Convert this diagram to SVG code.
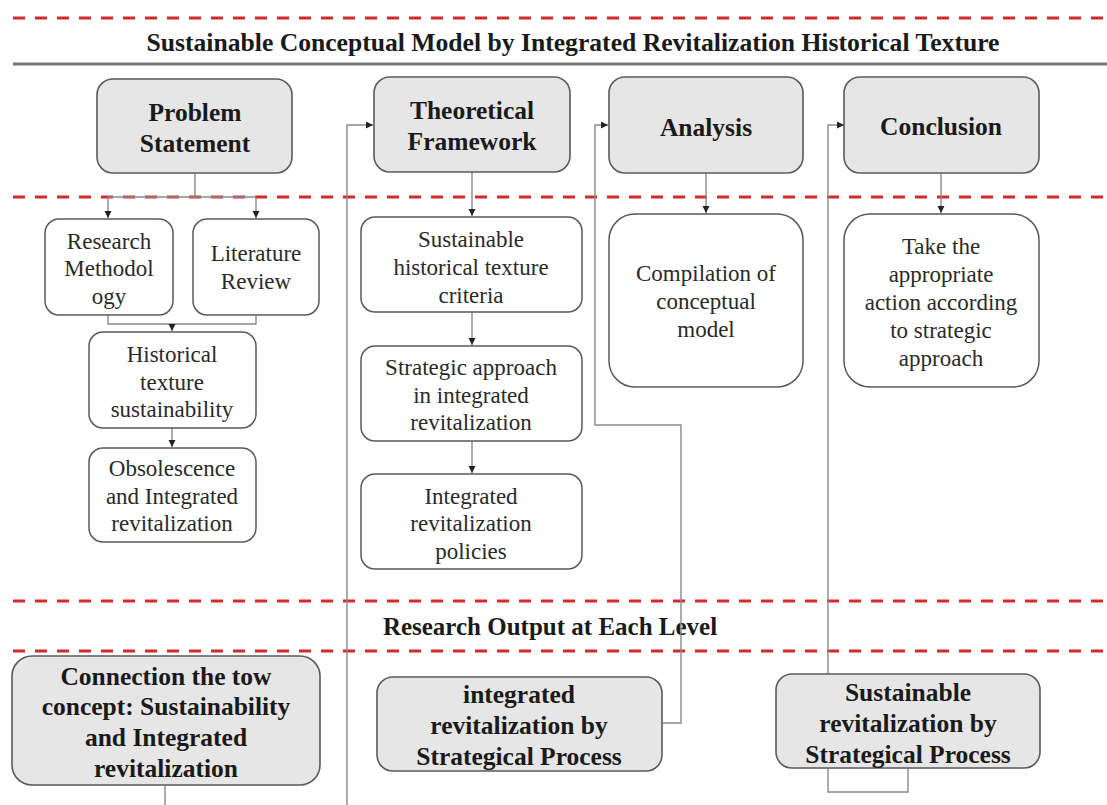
<svg xmlns="http://www.w3.org/2000/svg" width="1107" height="805" viewBox="0 0 1107 805">
<defs>
<marker id="ah" markerWidth="8" markerHeight="8" refX="7" refY="4" orient="auto" markerUnits="userSpaceOnUse">
<path d="M0,0.5 L7,4 L0,7.5 z" fill="#222"/>
</marker>
<style>
.dash{stroke:#d42a2a;stroke-width:3;stroke-dasharray:12 10;fill:none}
.main{fill:#e6e6e6;stroke:#5a5a5a;stroke-width:1.6}
.sub{fill:#fff;stroke:#5a5a5a;stroke-width:1.5}
.con{fill:none;stroke:#8a8a8a;stroke-width:1.4}
.h{font-family:"Liberation Serif","Times New Roman",serif;font-weight:bold;font-size:25.5px;fill:#1a1a1a;text-anchor:middle}
.t{font-family:"Liberation Serif","Times New Roman",serif;font-size:23px;fill:#2a2a2a;text-anchor:middle}
.ttl{font-family:"Liberation Serif","Times New Roman",serif;font-weight:bold;font-size:25px;fill:#1a1a1a;text-anchor:middle}
</style>
</defs>
<rect width="1107" height="805" fill="#fff"/>
<g id="bands">
<line class="dash" x1="13" y1="18" x2="1107" y2="18"/>
<line class="dash" x1="13" y1="197" x2="1107" y2="197"/>
<line class="dash" x1="13" y1="601" x2="1107" y2="601"/>
<line class="dash" x1="13" y1="651" x2="1107" y2="651"/>
<line x1="13" y1="64" x2="1107" y2="64" stroke="#777" stroke-width="3"/>
<text class="ttl" x="573" y="51" textLength="853" lengthAdjust="spacingAndGlyphs">Sustainable Conceptual Model by Integrated Revitalization Historical Texture</text>
<text class="ttl" x="550" y="635">Research Output at Each Level</text>
</g>
<g id="connectors">
<path class="con" d="M195,173 V197 M108,197 H256"/>
<path class="con" d="M108,197 V218" marker-end="url(#ah)"/>
<path class="con" d="M256,197 V218" marker-end="url(#ah)"/>
<path class="con" d="M108,315 V324 H256 V315"/>
<path class="con" d="M172,324 V331" marker-end="url(#ah)"/>
<path class="con" d="M172,428 V447" marker-end="url(#ah)"/>
<path class="con" d="M472,172 V216" marker-end="url(#ah)"/>
<path class="con" d="M472,312 V345" marker-end="url(#ah)"/>
<path class="con" d="M472,441 V473" marker-end="url(#ah)"/>
<path class="con" d="M706,173 V213" marker-end="url(#ah)"/>
<path class="con" d="M941,173 V213" marker-end="url(#ah)"/>
<path class="con" d="M347,805 V125 H373" marker-end="url(#ah)"/>
<path class="con" d="M662,723 H681 V425 H595 V125 H608" marker-end="url(#ah)"/>
<path class="con" d="M828,674 V125 H844" marker-end="url(#ah)"/>
<path class="con" d="M828,768 V792 H908 V768"/>
<path class="con" d="M165,785 V805"/>
</g>
<g id="n-problem">
<rect class="main" x="97" y="79" width="195" height="94" rx="16"/>
<text class="h" x="195" y="121">Problem</text>
<text class="h" x="195" y="152">Statement</text>
</g>
<g id="n-theory">
<rect class="main" x="374" y="77" width="196" height="95" rx="16"/>
<text class="h" x="472" y="119">Theoretical</text>
<text class="h" x="472" y="150">Framework</text>
</g>
<g id="n-analysis">
<rect class="main" x="609" y="77" width="194" height="96" rx="16"/>
<text class="h" x="706" y="136">Analysis</text>
</g>
<g id="n-conclusion">
<rect class="main" x="844" y="77" width="195" height="96" rx="16"/>
<text class="h" x="941" y="135">Conclusion</text>
</g>
<g id="n-research">
<rect class="sub" x="45" y="219" width="128" height="96" rx="14"/>
<text class="t" x="109" y="249">Research</text>
<text class="t" x="109" y="276">Methodol</text>
<text class="t" x="109" y="304">ogy</text>
</g>
<g id="n-literature">
<rect class="sub" x="193" y="219" width="126" height="96" rx="14"/>
<text class="t" x="256" y="261">Literature</text>
<text class="t" x="256" y="289">Review</text>
</g>
<g id="n-historical">
<rect class="sub" x="89" y="332" width="167" height="96" rx="14"/>
<text class="t" x="172" y="362">Historical</text>
<text class="t" x="172" y="390">texture</text>
<text class="t" x="172" y="417">sustainability</text>
</g>
<g id="n-obsolescence">
<rect class="sub" x="89" y="448" width="167" height="94" rx="14"/>
<text class="t" x="172" y="476">Obsolescence</text>
<text class="t" x="172" y="504">and Integrated</text>
<text class="t" x="172" y="531">revitalization</text>
</g>
<g id="n-criteria">
<rect class="sub" x="361" y="217" width="221" height="95" rx="14"/>
<text class="t" x="471" y="247">Sustainable</text>
<text class="t" x="471" y="275">historical texture</text>
<text class="t" x="471" y="303">criteria</text>
</g>
<g id="n-strategic">
<rect class="sub" x="361" y="346" width="221" height="95" rx="14"/>
<text class="t" x="471" y="375">Strategic approach</text>
<text class="t" x="471" y="403">in integrated</text>
<text class="t" x="471" y="430">revitalization</text>
</g>
<g id="n-policies">
<rect class="sub" x="361" y="474" width="221" height="95" rx="14"/>
<text class="t" x="471" y="504">Integrated</text>
<text class="t" x="471" y="531">revitalization</text>
<text class="t" x="471" y="559">policies</text>
</g>
<g id="n-compilation">
<rect class="sub" x="609" y="214" width="194" height="173" rx="26"/>
<text class="t" x="706" y="281">Compilation of</text>
<text class="t" x="706" y="309">conceptual</text>
<text class="t" x="706" y="337">model</text>
</g>
<g id="n-action">
<rect class="sub" x="844" y="214" width="195" height="173" rx="26"/>
<text class="t" x="941" y="254">Take the</text>
<text class="t" x="941" y="282">appropriate</text>
<text class="t" x="941" y="310">action according</text>
<text class="t" x="941" y="338">to strategic</text>
<text class="t" x="941" y="366">approach</text>
</g>
<g id="n-connection">
<rect class="main" x="12" y="656" width="308" height="129" rx="20"/>
<text class="h" x="166" y="685">Connection the tow</text>
<text class="h" x="166" y="715">concept: Sustainability</text>
<text class="h" x="166" y="746">and  Integrated</text>
<text class="h" x="166" y="777">revitalization</text>
</g>
<g id="n-integrated">
<rect class="main" x="377" y="677" width="285" height="94" rx="16"/>
<text class="h" x="519" y="703">integrated</text>
<text class="h" x="519" y="734">revitalization by</text>
<text class="h" x="519" y="765">Strategical Process</text>
</g>
<g id="n-sustainable">
<rect class="main" x="776" y="674" width="264" height="94" rx="16"/>
<text class="h" x="908" y="701">Sustainable</text>
<text class="h" x="908" y="732">revitalization by</text>
<text class="h" x="908" y="763">Strategical Process</text>
</g>
</svg>
